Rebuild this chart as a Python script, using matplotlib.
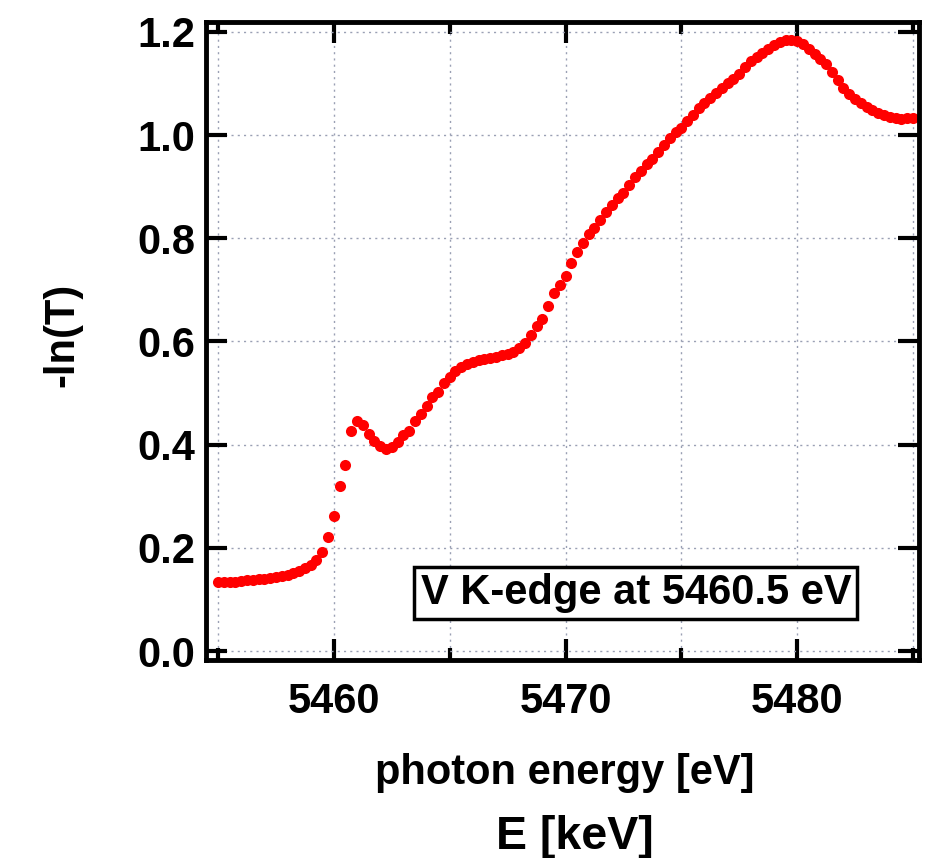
import matplotlib
matplotlib.use("Agg")
import matplotlib.pyplot as plt
from matplotlib.ticker import MultipleLocator

plt.rcParams["font.family"] = ["Liberation Sans", "DejaVu Sans"]
plt.rcParams["font.weight"] = "bold"

# photon energy [eV] and -ln(T)
energy = [
    5455.00, 5455.25, 5455.50, 5455.75, 5456.00, 5456.25, 5456.50, 5456.75,
    5457.00, 5457.25, 5457.50, 5457.75, 5458.00, 5458.25, 5458.50, 5458.75,
    5459.00, 5459.25, 5459.50, 5459.75, 5460.00, 5460.25, 5460.50, 5460.75,
    5461.00, 5461.25, 5461.50, 5461.75, 5462.00, 5462.25, 5462.50, 5462.75,
    5463.00, 5463.25, 5463.50, 5463.75, 5464.00, 5464.25, 5464.50, 5464.75,
    5465.00, 5465.25, 5465.50, 5465.75, 5466.00, 5466.25, 5466.50, 5466.75,
    5467.00, 5467.25, 5467.50, 5467.75, 5468.00, 5468.25, 5468.50, 5468.75,
    5469.00, 5469.25, 5469.50, 5469.75, 5470.00, 5470.25, 5470.50, 5470.75,
    5471.00, 5471.25, 5471.50, 5471.75, 5472.00, 5472.25, 5472.50, 5472.75,
    5473.00, 5473.25, 5473.50, 5473.75, 5474.00, 5474.25, 5474.50, 5474.75,
    5475.00, 5475.25, 5475.50, 5475.75, 5476.00, 5476.25, 5476.50, 5476.75,
    5477.00, 5477.25, 5477.50, 5477.75, 5478.00, 5478.25, 5478.50, 5478.75,
    5479.00, 5479.25, 5479.50, 5479.75, 5480.00, 5480.25, 5480.50, 5480.75,
    5481.00, 5481.25, 5481.50, 5481.75, 5482.00, 5482.25, 5482.50, 5482.75,
    5483.00, 5483.25, 5483.50, 5483.75, 5484.00, 5484.25, 5484.50, 5484.75,
    5485.00,
]
absorb = [
    0.134, 0.134, 0.135, 0.135, 0.136, 0.137, 0.138, 0.139,
    0.140, 0.142, 0.143, 0.145, 0.147, 0.151, 0.155, 0.161,
    0.167, 0.176, 0.192, 0.221, 0.262, 0.320, 0.361, 0.427,
    0.446, 0.438, 0.420, 0.407, 0.397, 0.392, 0.396, 0.405,
    0.419, 0.427, 0.445, 0.459, 0.475, 0.493, 0.503, 0.519,
    0.532, 0.542, 0.551, 0.557, 0.561, 0.564, 0.566, 0.568,
    0.570, 0.573, 0.576, 0.580, 0.587, 0.598, 0.613, 0.630,
    0.643, 0.668, 0.693, 0.710, 0.726, 0.752, 0.773, 0.790,
    0.808, 0.820, 0.836, 0.850, 0.865, 0.878, 0.888, 0.903,
    0.918, 0.931, 0.944, 0.953, 0.968, 0.981, 0.994, 1.006,
    1.014, 1.028, 1.039, 1.052, 1.062, 1.071, 1.081, 1.091,
    1.100, 1.109, 1.118, 1.131, 1.143, 1.151, 1.158, 1.166,
    1.174, 1.181, 1.185, 1.185, 1.183, 1.176, 1.166, 1.156,
    1.147, 1.137, 1.122, 1.107, 1.092, 1.080, 1.070, 1.062,
    1.055, 1.049, 1.043, 1.039, 1.035, 1.032, 1.031, 1.032,
    1.033,
]
note = "V K-edge at 5460.5 eV"

fig = plt.figure(figsize=(9.25, 8.58), dpi=100)
ax = fig.add_axes([0.2227, 0.2308, 0.7708, 0.7436])

ax.plot(energy, absorb, "o", color="#ff0000", markersize=8, markeredgewidth=0)

ax.set_xlim(5454.48, 5485.26)
ax.set_ylim(-0.017, 1.219)
ax.xaxis.set_major_locator(MultipleLocator(10))
ax.xaxis.set_minor_locator(MultipleLocator(5))
ax.yaxis.set_major_locator(MultipleLocator(0.2))
ax.yaxis.set_major_formatter(plt.FormatStrFormatter("%.1f"))

ax.grid(True, which="both", axis="x", color="#9aa0b4", linestyle=(0, (1.5, 3)), linewidth=1)
ax.grid(True, which="major", axis="y", color="#9aa0b4", linestyle=(0, (1.5, 3)), linewidth=1)

for s in ax.spines.values():
    s.set_linewidth(3.5)
ax.tick_params(which="major", direction="in", length=15, width=3,
               top=True, right=True, labelsize=30)
ax.tick_params(which="minor", direction="in", length=8.5, width=3,
               top=True, right=True)
ax.tick_params(axis="x", which="major", pad=16)
ax.tick_params(axis="y", which="major", pad=8)

ax.text(0.603, 0.105, note, transform=ax.transAxes, fontsize=30,
        ha="center", va="center",
        bbox=dict(boxstyle="square,pad=0.15", facecolor="white",
                  edgecolor="black", linewidth=2.5))

fig.text(0.067, 0.61, "-ln(T)", rotation=90, fontsize=30, ha="center", va="center")
fig.text(0.611, 0.099, "photon energy [eV]", fontsize=30, ha="center", va="center")
fig.text(0.621, 0.025, "E [keV]", fontsize=33.5, ha="center", va="center")

fig.savefig("out.png", dpi=100)
